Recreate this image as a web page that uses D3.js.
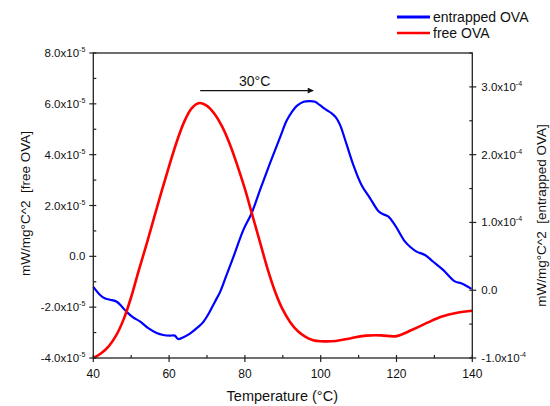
<!DOCTYPE html>
<html>
<head>
<meta charset="utf-8">
<script src="https://cdn.jsdelivr.net/npm/d3@7"></script>
<style>
  body { margin: 0; background: #fff; }
  svg { display: block; font-family: Arial, "Liberation Sans", sans-serif; }
  text { white-space: pre; }
</style>
</head>
<body>
<svg id="chart" width="550" height="406"></svg>
<script>
// Temperature (°C) and heat-flow derivative for free OVA (units of 1e-5 mW/mg°C^2)
const freeTemp = [40, 42, 44, 46, 48, 50, 52, 54, 56, 58, 60, 62, 64, 66, 68, 70, 72, 74, 76, 78, 80, 82, 84, 86, 88, 90, 92, 94, 96, 98, 100, 104, 108, 112, 116, 120, 124, 128, 132, 136, 140];
const freeVal  = [-4.00, -3.82, -3.55, -3.12, -2.48, -1.60, -0.55, 0.45, 1.50, 2.55, 3.55, 4.50, 5.30, 5.83, 6.03, 5.92, 5.60, 5.10, 4.42, 3.58, 2.65, 1.60, 0.55, -0.50, -1.40, -2.10, -2.60, -2.95, -3.17, -3.30, -3.34, -3.33, -3.22, -3.12, -3.11, -3.14, -2.90, -2.62, -2.37, -2.22, -2.14];

// Temperature (°C) and heat-flow derivative for entrapped OVA (units of 1e-4 mW/mg°C^2)
const entTemp = [40, 41.8, 43.0, 44.4, 46.2, 47.5, 48.8, 50.5, 52.3, 54.5, 56.7, 58.5, 60.2, 61.5, 62.4, 63.5, 65.5, 67.5, 69.0, 70.5, 72.0, 73.5, 75.0, 76.9, 79.6, 81.8, 84.0, 86.6, 89.3, 91.0, 92.5, 93.7, 95.5, 97.2, 98.5, 99.8, 101.5, 102.9, 104.0, 105.1, 106.9, 108.6, 110.8, 113.0, 115.2, 116.5, 117.8, 119.6, 122.2, 123.8, 125.3, 127.5, 129.7, 132.3, 135.4, 137.2, 139.8];
const entVal  = [0.05, -0.07, -0.12, -0.14, -0.17, -0.24, -0.32, -0.40, -0.46, -0.56, -0.63, -0.66, -0.67, -0.67, -0.72, -0.70, -0.64, -0.55, -0.47, -0.34, -0.18, -0.02, 0.20, 0.48, 0.89, 1.14, 1.48, 1.87, 2.26, 2.50, 2.64, 2.72, 2.78, 2.79, 2.78, 2.73, 2.66, 2.61, 2.55, 2.44, 2.14, 1.85, 1.55, 1.36, 1.17, 1.12, 1.09, 0.96, 0.72, 0.63, 0.57, 0.52, 0.42, 0.30, 0.13, 0.10, 0.02];

// Axis ticks
const xTicks = [40, 60, 80, 100, 120, 140];
const xMinor = [50, 70, 90, 110, 130];
const leftTicks = [8, 6, 4, 2, 0, -2, -4];
const leftMinor = [7, 5, 3, 1, -1, -3];
const leftTickLabels = ["8.0x10", "6.0x10", "4.0x10", "2.0x10", "0.0", "-2.0x10", "-4.0x10"];
const rightTicks = [3, 2, 1, 0, -1];
const rightMinor = [3.5, 2.5, 1.5, 0.5, -0.5];
const rightTickLabels = ["3.0x10", "2.0x10", "1.0x10", "0.0", "-1.0x10"];

// Peak shift annotation
const shiftFrom = 68.2, shiftTo = 98.0, shiftLevel = 6.52;
const shiftText = "30°C";

const seriesNames = ["entrapped OVA", "free OVA"];
const seriesColors = ["#0000ff", "#ff0000"];

const svg = d3.select("#chart");
const L = 93.3, R = 472.3, T = 53, B = 358;

const x = d3.scaleLinear().domain([40, 140]).range([L, R]);
const yL = d3.scaleLinear().domain([-4, 8]).range([B, T]);
const yR = d3.scaleLinear().domain([-1, 3.5]).range([B, T]);

const axisColor = "#222";

// curves
const lineFree = d3.line().x((d, i) => x(freeTemp[i])).y(d => yL(d)).curve(d3.curveCatmullRom);
const lineEnt = d3.line().x((d, i) => x(entTemp[i])).y(d => yR(d)).curve(d3.curveCatmullRom);

svg.append("path").attr("d", lineEnt(entVal))
  .attr("fill", "none").attr("stroke", seriesColors[0]).attr("stroke-width", 2.2)
  .attr("stroke-linejoin", "round");
svg.append("path").attr("d", lineFree(freeVal))
  .attr("fill", "none").attr("stroke", seriesColors[1]).attr("stroke-width", 2.6)
  .attr("stroke-linejoin", "round");

// frame
svg.append("rect").attr("x", L).attr("y", T).attr("width", R - L).attr("height", B - T)
  .attr("fill", "none").attr("stroke", axisColor).attr("stroke-width", 1.3);

const g = svg.append("g").attr("stroke", axisColor).attr("stroke-width", 1.2);

// bottom ticks
xTicks.forEach(v => g.append("line").attr("x1", x(v)).attr("x2", x(v)).attr("y1", B - 3).attr("y2", B + 4));
xMinor.forEach(v => g.append("line").attr("x1", x(v)).attr("x2", x(v)).attr("y1", B - 3).attr("y2", B));
// left ticks
leftTicks.forEach(v => g.append("line").attr("x1", L - 4).attr("x2", L + 3).attr("y1", yL(v)).attr("y2", yL(v)));
leftMinor.forEach(v => g.append("line").attr("x1", L).attr("x2", L + 3).attr("y1", yL(v)).attr("y2", yL(v)));
// right ticks
rightTicks.forEach(v => g.append("line").attr("x1", R - 3).attr("x2", R + 4).attr("y1", yR(v)).attr("y2", yR(v)));
rightMinor.forEach(v => g.append("line").attr("x1", R - 3).attr("x2", R).attr("y1", yR(v)).attr("y2", yR(v)));

const txt = svg.append("g").attr("fill", "#111");

// x tick labels
xTicks.forEach(v => txt.append("text").attr("x", x(v)).attr("y", B + 20)
  .attr("text-anchor", "middle").attr("font-size", 12).text(v));

// left tick labels with exponent
leftTicks.forEach((v, i) => {
  const t = txt.append("text").attr("x", L - 8).attr("y", yL(v) + 4)
    .attr("text-anchor", "end").attr("font-size", 11.5);
  t.append("tspan").text(leftTickLabels[i]);
  if (v !== 0) t.append("tspan").attr("dy", -5).attr("font-size", 7).text("-5");
});

// right tick labels with exponent
rightTicks.forEach((v, i) => {
  const t = txt.append("text").attr("x", R + 9).attr("y", yR(v) + 4)
    .attr("text-anchor", "start").attr("font-size", 11.5);
  t.append("tspan").text(rightTickLabels[i]);
  if (v !== 0) t.append("tspan").attr("dy", -5).attr("font-size", 7).text("-4");
});

// axis titles
txt.append("text").attr("x", (L + R) / 2 - 0.5).attr("y", 401)
  .attr("text-anchor", "middle").attr("font-size", 14.5).text("Temperature (°C)");

txt.append("text").attr("transform", `translate(30,${(T + B) / 2 - 2}) rotate(-90)`)
  .attr("text-anchor", "middle").attr("font-size", 13.5).text("mW/mg°C^2  [free OVA]");

txt.append("text").attr("transform", `translate(546,${(T + B) / 2 + 10}) rotate(-90)`)
  .attr("text-anchor", "middle").attr("font-size", 13.5).text("mW/mg°C^2  [entrapped OVA]");

// peak shift arrow
const defs = svg.append("defs");
defs.append("marker").attr("id", "arrowhead").attr("viewBox", "0 0 10 10")
  .attr("refX", 9).attr("refY", 5).attr("markerWidth", 9).attr("markerHeight", 6)
  .attr("markerUnits", "userSpaceOnUse").attr("orient", "auto")
  .append("path").attr("d", "M0,0 L10,5 L0,10 Z").attr("fill", "#111");

svg.append("line").attr("x1", x(shiftFrom)).attr("x2", x(shiftTo))
  .attr("y1", yL(shiftLevel)).attr("y2", yL(shiftLevel))
  .attr("stroke", "#111").attr("stroke-width", 1.2).attr("marker-end", "url(#arrowhead)");
txt.append("text").attr("x", x((shiftFrom + shiftTo) / 2) - 2).attr("y", yL(shiftLevel) - 5)
  .attr("text-anchor", "middle").attr("font-size", 14).text(shiftText);

// legend
const leg = svg.append("g");
seriesNames.forEach((name, i) => {
  const ly = 17 + i * 16;
  leg.append("line").attr("x1", 397).attr("x2", 430).attr("y1", ly).attr("y2", ly)
    .attr("stroke", seriesColors[i]).attr("stroke-width", i === 0 ? 3 : 2.4);
  leg.append("text").attr("x", 433).attr("y", ly + 5).attr("font-size", 14)
    .attr("fill", "#111").text(name);
});
</script>
</body>
</html>
